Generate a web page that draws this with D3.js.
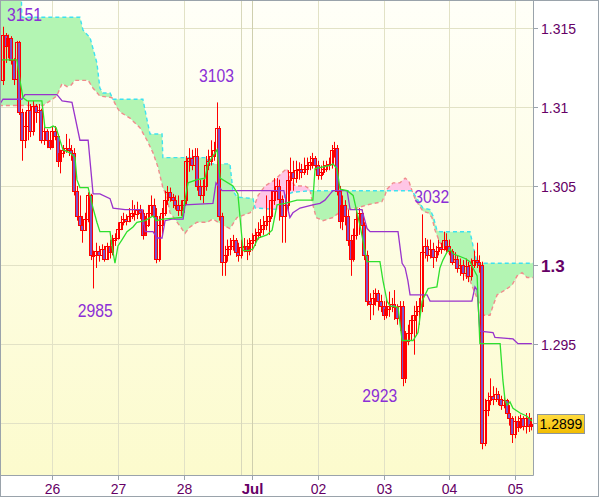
<!DOCTYPE html>
<html>
<head>
<meta charset="utf-8">
<script src="https://cdn.jsdelivr.net/npm/d3@7/dist/d3.min.js"></script>
<style>
html,body{margin:0;padding:0;background:#ffffff;}
svg{display:block;font-family:"Liberation Sans",Arial,sans-serif;}
</style>
</head>
<body>
<svg id="chart" width="600" height="498"></svg>
<script>
// ---------- DATA (hourly bars) ----------
const opens=[
1.3117,1.3146,1.3139,1.3144,1.3130,1.3118,1.3141,1.3097,1.3079,1.3088,
1.3098,1.3085,1.3101,1.3097,1.3098,1.3079,1.3085,1.3079,1.3075,1.3085,
1.3082,1.3066,1.3071,1.3073,1.3074,1.3073,1.3071,1.3047,1.3031,1.3025,
1.3022,1.3029,1.3044,1.3006,1.3006,1.3009,1.3006,1.3010,1.3004,1.3012,
1.3008,1.3016,1.3017,1.3023,1.3027,1.3029,1.3028,1.3031,1.3033,1.3032,
1.3035,1.3033,1.3019,1.3025,1.3033,1.3038,1.3031,1.3004,1.3025,1.3033,
1.3041,1.3046,1.3043,1.3041,1.3038,1.3035,1.3038,1.3041,1.3066,1.3068,
1.3063,1.3069,1.3050,1.3044,1.3050,1.3063,1.3066,1.3069,1.3073,1.3087,
1.3031,1.3002,1.3006,1.3010,1.3012,1.3016,1.3008,1.3006,1.3011,1.3012,
1.3009,1.3014,1.3016,1.3019,1.3021,1.3023,1.3025,1.3028,1.3031,1.3041,
1.3047,1.3050,1.3042,1.3031,1.3038,1.3054,1.3059,1.3055,1.3060,1.3061,
1.3059,1.3061,1.3063,1.3065,1.3068,1.3063,1.3057,1.3059,1.3061,1.3063,
1.3064,1.3073,1.3074,1.3047,1.3028,1.3038,1.3031,1.3016,1.3004,1.3019,
1.3029,1.3033,1.3025,1.3006,1.2977,1.2975,1.2979,1.2982,1.2977,1.2974,
1.2968,1.2972,1.2974,1.2975,1.2973,1.2966,1.2974,1.2928,1.2952,1.2957,
1.2965,1.2968,1.2971,1.2974,1.3008,1.3012,1.3006,1.3010,1.3005,1.3009,
1.3011,1.3010,1.3016,1.3012,1.3009,1.3002,1.3004,1.2998,1.3000,1.2995,
1.2999,1.2993,1.3000,1.3003,1.3002,1.3000,1.2887,1.2908,1.2914,1.2917,
1.2915,1.2918,1.2915,1.2911,1.2914,1.2906,1.2903,1.2893,1.2901,1.2897,
1.2903,1.2898,1.2903,1.2898];
const highs=[
1.3151,1.3147,1.3146,1.3145,1.3131,1.3142,1.3142,1.3099,1.3097,1.3104,
1.3102,1.3104,1.3102,1.3102,1.3099,1.3090,1.3086,1.3083,1.3088,1.3088,
1.3083,1.3073,1.3076,1.3083,1.3080,1.3076,1.3074,1.3050,1.3044,1.3031,
1.3033,1.3046,1.3045,1.3009,1.3014,1.3012,1.3013,1.3012,1.3014,1.3016,
1.3019,1.3020,1.3027,1.3031,1.3033,1.3032,1.3036,1.3041,1.3038,1.3040,
1.3038,1.3035,1.3031,1.3038,1.3044,1.3042,1.3036,1.3031,1.3036,1.3047,
1.3050,1.3049,1.3045,1.3044,1.3044,1.3041,1.3044,1.3069,1.3074,1.3073,
1.3074,1.3074,1.3054,1.3054,1.3069,1.3073,1.3079,1.3078,1.3103,1.3088,
1.3033,1.3012,1.3016,1.3017,1.3019,1.3017,1.3014,1.3016,1.3017,1.3016,
1.3017,1.3020,1.3023,1.3027,1.3029,1.3031,1.3044,1.3035,1.3047,1.3055,
1.3055,1.3054,1.3044,1.3042,1.3060,1.3068,1.3066,1.3066,1.3065,1.3064,
1.3068,1.3068,1.3069,1.3071,1.3069,1.3066,1.3063,1.3066,1.3066,1.3068,
1.3076,1.3078,1.3076,1.3050,1.3044,1.3041,1.3035,1.3019,1.3023,1.3035,
1.3036,1.3035,1.3027,1.3009,1.2982,1.2984,1.2985,1.2984,1.2981,1.2977,
1.2979,1.2983,1.2979,1.2984,1.2975,1.2977,1.2977,1.2958,1.2962,1.2968,
1.2974,1.2977,1.2979,1.3032,1.3017,1.3016,1.3016,1.3014,1.3012,1.3016,
1.3014,1.3021,1.3020,1.3016,1.3010,1.3008,1.3006,1.3004,1.3003,1.3004,
1.3002,1.3004,1.3009,1.3014,1.3006,1.3002,1.2915,1.2919,1.2928,1.2923,
1.2922,1.2920,1.2917,1.2917,1.2915,1.2911,1.2904,1.2904,1.2904,1.2905,
1.2904,1.2906,1.2906,1.2903];
const lows=[
1.3114,1.3128,1.3131,1.3127,1.3114,1.3117,1.3095,1.3066,1.3074,1.3079,
1.3081,1.3082,1.3090,1.3088,1.3077,1.3076,1.3074,1.3073,1.3074,1.3079,
1.3062,1.3058,1.3068,1.3071,1.3069,1.3066,1.3044,1.3028,1.3022,1.3014,
1.3022,1.3027,1.3003,1.2985,1.2998,1.3002,1.3004,1.3002,1.3003,1.3004,
1.3006,1.3012,1.3016,1.3022,1.3025,1.3025,1.3027,1.3029,1.3028,1.3029,
1.3029,1.3016,1.3019,1.3024,1.3031,1.3023,1.3001,1.3002,1.3019,1.3031,
1.3038,1.3040,1.3036,1.3035,1.3031,1.3031,1.3033,1.3038,1.3059,1.3060,
1.3057,1.3047,1.3041,1.3039,1.3047,1.3060,1.3063,1.3066,1.3069,1.3028,
1.2993,1.2993,1.3002,1.3006,1.3009,1.3005,1.3002,1.3004,1.3008,1.3003,
1.3006,1.3009,1.3012,1.3016,1.3017,1.3019,1.3022,1.3019,1.3029,1.3038,
1.3041,1.3028,1.3014,1.3014,1.3033,1.3047,1.3047,1.3052,1.3054,1.3055,
1.3057,1.3057,1.3060,1.3061,1.3060,1.3054,1.3054,1.3057,1.3059,1.3060,
1.3061,1.3068,1.3044,1.3023,1.3022,1.3025,1.3012,1.2993,1.3002,1.3016,
1.3019,1.3016,1.3003,1.2974,1.2965,1.2968,1.2974,1.2971,1.2970,1.2965,
1.2966,1.2967,1.2970,1.2965,1.2962,1.2958,1.2923,1.2925,1.2949,1.2952,
1.2943,1.2955,1.2962,1.2970,1.3004,1.3002,1.3004,1.2998,1.3002,1.3006,
1.3007,1.3009,1.3008,1.3006,1.3000,1.2998,1.2995,1.2993,1.2990,1.2991,
1.2989,1.2990,1.2998,1.2998,1.2995,1.2883,1.2885,1.2904,1.2911,1.2911,
1.2913,1.2911,1.2908,1.2909,1.2903,1.2898,1.2887,1.2890,1.2894,1.2896,
1.2895,1.2893,1.2894,1.2895];
const closes=[
1.3146,1.3139,1.3144,1.3130,1.3118,1.3141,1.3097,1.3079,1.3088,1.3098,
1.3085,1.3101,1.3097,1.3098,1.3079,1.3085,1.3079,1.3075,1.3085,1.3082,
1.3066,1.3071,1.3073,1.3074,1.3073,1.3071,1.3047,1.3031,1.3025,1.3022,
1.3029,1.3044,1.3006,1.3006,1.3009,1.3006,1.3010,1.3004,1.3012,1.3008,
1.3016,1.3017,1.3023,1.3027,1.3029,1.3028,1.3031,1.3033,1.3032,1.3035,
1.3033,1.3019,1.3025,1.3033,1.3038,1.3031,1.3004,1.3025,1.3033,1.3041,
1.3046,1.3043,1.3041,1.3038,1.3035,1.3038,1.3041,1.3066,1.3068,1.3063,
1.3069,1.3050,1.3044,1.3050,1.3063,1.3066,1.3069,1.3073,1.3087,1.3031,
1.3002,1.3006,1.3010,1.3012,1.3016,1.3008,1.3006,1.3011,1.3012,1.3009,
1.3014,1.3016,1.3019,1.3021,1.3023,1.3025,1.3028,1.3031,1.3041,1.3047,
1.3050,1.3042,1.3031,1.3038,1.3054,1.3059,1.3055,1.3060,1.3061,1.3059,
1.3061,1.3063,1.3065,1.3068,1.3063,1.3057,1.3059,1.3061,1.3063,1.3064,
1.3073,1.3074,1.3047,1.3028,1.3038,1.3031,1.3016,1.3004,1.3019,1.3029,
1.3033,1.3025,1.3006,1.2977,1.2975,1.2979,1.2982,1.2977,1.2974,1.2968,
1.2972,1.2974,1.2975,1.2973,1.2966,1.2974,1.2928,1.2952,1.2957,1.2965,
1.2968,1.2971,1.2974,1.3008,1.3012,1.3006,1.3010,1.3005,1.3009,1.3011,
1.3010,1.3016,1.3012,1.3009,1.3002,1.3004,1.2998,1.3000,1.2995,1.2999,
1.2993,1.3000,1.3003,1.3002,1.3000,1.2887,1.2908,1.2914,1.2917,1.2915,
1.2918,1.2915,1.2911,1.2914,1.2906,1.2903,1.2893,1.2901,1.2897,1.2903,
1.2898,1.2903,1.2898,1.2899];

// Indicator lines: [bar position, price] vertices
const tenkan=[[-0.4,1.3130],[5.1,1.3130],[6.2,1.3117],[7.3,1.3106],[8.8,1.3104],[14.2,1.3104],[15.3,1.3087],[17.2,1.3087],[18.3,1.3088],[19.4,1.3087],[20.8,1.3079],[21.9,1.3073],[24.5,1.3071],[26.3,1.3068],[27.0,1.3054],[28.1,1.3049],[31.1,1.3049],[32.9,1.3036],[34.3,1.3027],[35.4,1.3021],[39.1,1.3021],[39.8,1.3012],[40.9,1.3001],[42.0,1.3012],[43.5,1.3016],[45.3,1.3021],[47.5,1.3024],[48.9,1.3027],[51.9,1.3028],[54.8,1.3031],[55.9,1.3028],[58.4,1.3029],[65.4,1.3030],[66.5,1.3041],[67.6,1.3052],[70.9,1.3054],[73.8,1.3055],[74.9,1.3064],[76.7,1.3069],[78.2,1.3073],[79.3,1.3055],[84.0,1.3050],[85.8,1.3045],[87.7,1.3009],[89.5,1.3009],[91.3,1.3010],[93.2,1.3017],[96.4,1.3019],[98.3,1.3022],[100.1,1.3038],[103.0,1.3039],[107.4,1.3041],[113.2,1.3041],[114.0,1.3061],[119.5,1.3063],[120.5,1.3064],[122.0,1.3061],[123.1,1.3048],[125.7,1.3047],[127.9,1.3044],[130.4,1.3025],[133.0,1.3002],[137.7,1.3002],[138.8,1.2990],[140.3,1.2977],[141.4,1.2974],[144.3,1.2973],[145.8,1.2952],[149.8,1.2952],[151.6,1.2957],[153.1,1.2977],[154.2,1.2981],[155.3,1.2985],[158.5,1.2986],[159.6,1.2998],[160.7,1.3003],[162.2,1.3008],[163.3,1.3010],[164.4,1.3007],[168.8,1.3004],[170.6,1.3002],[171.7,1.2998],[173.2,1.2993],[174.2,1.2950],[181.6,1.2950],[182.6,1.2927],[183.4,1.2914],[184.1,1.2911],[185.2,1.2913],[186.3,1.2909],[188.9,1.2906],[191.4,1.2904],[193.2,1.2901]];
const kijun=[[-1.1,1.3102],[0,1.3105],[6.9,1.3105],[8.0,1.3108],[19.7,1.3108],[21.6,1.3104],[25.2,1.3103],[28.1,1.3079],[31.1,1.3079],[32.9,1.3045],[35.4,1.3045],[39.1,1.3042],[40.2,1.3036],[44.6,1.3035],[50.8,1.3035],[51.9,1.3021],[54.8,1.3021],[56.3,1.3017],[58.1,1.3017],[59.2,1.3028],[61.7,1.3029],[65.8,1.3029],[66.5,1.3038],[76.7,1.3039],[77.8,1.3052],[80.0,1.3047],[102.6,1.3047],[103.7,1.3038],[104.8,1.3030],[105.9,1.3033],[108.5,1.3036],[113.2,1.3038],[115.8,1.3039],[117.6,1.3041],[119.5,1.3045],[120.5,1.3047],[125.7,1.3047],[126.8,1.3035],[131.1,1.3035],[133.0,1.3023],[134.1,1.3021],[144.3,1.3021],[145.8,1.3001],[146.9,1.2998],[147.9,1.2990],[148.7,1.2981],[154.9,1.2981],[156.0,1.2977],[171.3,1.2977],[172.4,1.2986],[173.2,1.2984],[174.2,1.2958],[179.0,1.2957],[179.7,1.2954],[186.3,1.2953],[188.1,1.2950],[193.2,1.2950]];
const senkouA=[[-1.5,1.3175],[6.6,1.3175],[6.9,1.3157],[28.1,1.3157],[29.2,1.3149],[31.8,1.3144],[34.3,1.3128],[35.4,1.3112],[36.5,1.3109],[39.1,1.3109],[40.2,1.3105],[51.1,1.3105],[52.6,1.3092],[53.7,1.3083],[58.1,1.3083],[58.4,1.3068],[74.5,1.3068],[74.9,1.3064],[82.9,1.3064],[84.0,1.3047],[85.5,1.3043],[91.3,1.3042],[92.1,1.3036],[101.9,1.3035],[103.0,1.3044],[105.9,1.3046],[112.1,1.3047],[149.4,1.3047],[153.4,1.3036],[156.0,1.3035],[157.1,1.3031],[158.5,1.3022],[159.6,1.3021],[170.6,1.3021],[171.7,1.3012],[173.2,1.3001],[195,1.3001]];
const senkouB=[[-1.5,1.3101],[14.6,1.3101],[17.2,1.3104],[19.6,1.3107],[21.6,1.3115],[23.4,1.3113],[24.9,1.3114],[26.3,1.3117],[31.1,1.3117],[32.9,1.3112],[35.4,1.3107],[39.8,1.3106],[41.6,1.3100],[42.7,1.3097],[46.4,1.3093],[50.0,1.3087],[52.6,1.3079],[54.8,1.3071],[56.6,1.3062],[58.4,1.3049],[59.9,1.3043],[61.0,1.3033],[62.8,1.3029],[66.5,1.3020],[68.3,1.3024],[70.9,1.3027],[74.5,1.3027],[76.7,1.3029],[80.4,1.3025],[82.9,1.3023],[85.5,1.3030],[90.2,1.3033],[91.3,1.3035],[93.2,1.3044],[95.7,1.3050],[99.4,1.3054],[102.3,1.3059],[103.7,1.3061],[105.2,1.3054],[106.7,1.3050],[110.3,1.3050],[112.1,1.3048],[113.2,1.3038],[114.4,1.3030],[116.9,1.3028],[120.5,1.3030],[124.2,1.3035],[129.3,1.3036],[133.0,1.3038],[138.4,1.3040],[139.5,1.3044],[140.3,1.3048],[142.5,1.3052],[145.0,1.3052],[146.9,1.3055],[148.3,1.3053],[149.4,1.3047],[150.5,1.3042],[152.3,1.3037],[153.4,1.3034],[155.3,1.3033],[156.7,1.3030],[157.8,1.3022],[159.6,1.3014],[162.2,1.3009],[164.4,1.3004],[165.8,1.3000],[168.0,1.2995],[170.6,1.2990],[172.4,1.2982],[174.2,1.2975],[175.7,1.2968],[177.9,1.2968],[179.0,1.2974],[180.5,1.2981],[183.4,1.2984],[185.9,1.2987],[187.8,1.2993],[189.6,1.2995],[191.4,1.2992],[195,1.2992]];

const yTicks=[1.29,1.295,1.3,1.305,1.31,1.315];
const yTickLabels=["","1.295","1.3","1.305","1.31","1.315"];
const dayTickIdx=[18,42,66,91,115,139,163,187];
const dayTickLabels=["26","27","28","Jul","02","03","04","05"];
const weekSepIdx=[87];
// marked extremes: bar index and whether high or low
const extremeBars=[0,78,33,146,153];
const extremeKinds=["high","high","low","low","high"];

// ---------- LAYOUT ----------
const plotL=1, plotT=1, plotR=533, plotB=475;
const x=d3.scaleLinear().domain([0,193]).range([3,3+193*2.7375]);
const y=d3.scaleLinear().domain([1.29,1.315]).range([422.5,28.3]);

const svg=d3.select("#chart");
const defs=svg.append("defs");
const bg=defs.append("linearGradient").attr("id","bgGrad").attr("x1",0).attr("y1",0).attr("x2",0).attr("y2",1);
bg.append("stop").attr("offset","0").attr("stop-color","#fffff8");
bg.append("stop").attr("offset","1").attr("stop-color","#fcfbcd");
const pg=defs.append("linearGradient").attr("id","priceGrad").attr("x1",0).attr("y1",0).attr("x2",0).attr("y2",1);
pg.append("stop").attr("offset","0").attr("stop-color","#ffdc40");
pg.append("stop").attr("offset","1").attr("stop-color","#f2bc00");
defs.append("clipPath").attr("id","plotClip").append("rect")
  .attr("x",plotL).attr("y",plotT).attr("width",plotR-plotL).attr("height",plotB-plotT);

const areaBelow=d3.area().x(d=>x(d[0])).y0(plotB+50).y1(d=>y(d[1]));
const areaAbove=d3.area().x(d=>x(d[0])).y0(plotT-50).y1(d=>y(d[1]));
defs.append("clipPath").attr("id","aboveB").append("path").attr("d",areaAbove(senkouB));
defs.append("clipPath").attr("id","aboveA").append("path").attr("d",areaAbove(senkouA));

svg.append("rect").attr("width",600).attr("height",498).attr("fill","#ffffff");
svg.append("rect").attr("x",plotL).attr("y",plotT).attr("width",plotR-plotL).attr("height",plotB-plotT).attr("fill","url(#bgGrad)");

const plotG=svg.append("g").attr("clip-path","url(#plotClip)");
// grid
yTicks.forEach(v=>{
  const yy=Math.round(y(v))+0.5;
  plotG.append("line").attr("x1",plotL).attr("x2",plotR).attr("y1",yy).attr("y2",yy).attr("stroke","#e2e2c6").attr("stroke-width",1);
});
dayTickIdx.forEach((i,k)=>{
  const xx=Math.round(x(i))+0.5;
  plotG.append("line").attr("x1",xx).attr("x2",xx).attr("y1",plotT).attr("y2",plotB)
    .attr("stroke",dayTickLabels[k]==="Jul"?"#cfcfae":"#e2e2c6").attr("stroke-width",1);
});
weekSepIdx.forEach(i=>{
  const xx=Math.round(x(i))+0.5;
  plotG.append("line").attr("x1",xx).attr("x2",xx).attr("y1",plotT).attr("y2",plotB).attr("stroke","#d8d8bb").attr("stroke-width",1);
});

// cloud
plotG.append("path").attr("d",areaBelow(senkouA)).attr("fill","#b3f5b3").attr("clip-path","url(#aboveB)");
plotG.append("path").attr("d",areaBelow(senkouB)).attr("fill","#ffc6e6").attr("clip-path","url(#aboveA)");
const line=d3.line().x(d=>x(d[0])).y(d=>y(d[1]));
plotG.append("path").attr("d",line(senkouB)).attr("fill","none").attr("stroke","#f08c8c").attr("stroke-width",1.4).attr("stroke-dasharray","4,3");
plotG.append("path").attr("d",line(senkouA)).attr("fill","none").attr("stroke","#3ee2f0").attr("stroke-width",1.4).attr("stroke-dasharray","4,3");

// candles
const cg=plotG.append("g");
closes.forEach((c,i)=>{
  const o=opens[i], h=highs[i], l=lows[i];
  const n=Math.round(x(i));
  const cx=n+0.5;
  cg.append("line").attr("x1",cx).attr("x2",cx).attr("y1",y(h)).attr("y2",y(l)).attr("stroke","#ff0000").attr("stroke-width",1);
  const yt=Math.round(y(Math.max(o,c)))+0.5;
  let yb=Math.round(y(Math.min(o,c)))+0.5;
  if(yb-yt<1) yb=yt+1;
  cg.append("rect").attr("x",n-1.5).attr("y",yt).attr("width",3).attr("height",yb-yt)
    .attr("fill",c<o?"#8050c8":"none").attr("stroke","#ff0000").attr("stroke-width",1);
});

// indicator lines
plotG.append("path").attr("d",line(kijun)).attr("fill","none").attr("stroke","#9933cc").attr("stroke-width",1.3);
plotG.append("path").attr("d",line(tenkan)).attr("fill","none").attr("stroke","#2ee02e").attr("stroke-width",1.3);

// extreme labels
const labelDx=[21.5,0,2,-23,10], labelDy=[-5.4,-20,29,16,-11];
extremeBars.forEach((b,k)=>{
  const v=extremeKinds[k]==="high"?highs[b]:lows[b];
  const txt=String(Math.round(v*10000)%10000);
  svg.append("text").attr("x",x(b)+labelDx[k]).attr("y",y(v)+labelDy[k])
    .attr("text-anchor","middle").attr("font-size",18).attr("fill","#8b2fd6")
    .attr("textLength",35).attr("lengthAdjust","spacingAndGlyphs").text(txt);
});

// axes
const axisCol="#9aa3ab";
svg.append("line").attr("x1",plotR+0.5).attr("x2",plotR+0.5).attr("y1",0).attr("y2",plotB+0.5).attr("stroke",axisCol);
svg.append("line").attr("x1",0).attr("x2",plotR+0.5).attr("y1",plotB+0.5).attr("y2",plotB+0.5).attr("stroke",axisCol);
yTicks.forEach((v,k)=>{
  const yy=Math.round(y(v))+0.5;
  svg.append("line").attr("x1",plotR+0.5).attr("x2",plotR+5).attr("y1",yy).attr("y2",yy).attr("stroke",axisCol);
  if(yTickLabels[k]){
    const bold=yTickLabels[k]==="1.3";
    svg.append("text").attr("x",541).attr("y",yy+(bold?6:5))
      .attr("font-size",bold?17:14).attr("font-weight",bold?"bold":"normal")
      .attr("fill","#660066").text(yTickLabels[k]);
  }
});
dayTickIdx.forEach((i,k)=>{
  const xx=Math.round(x(i))+0.5;
  svg.append("line").attr("x1",xx).attr("x2",xx).attr("y1",plotB+0.5).attr("y2",plotB+5).attr("stroke",axisCol);
  const bold=dayTickLabels[k]==="Jul";
  svg.append("text").attr("x",xx).attr("y",494).attr("text-anchor","middle")
    .attr("font-size",bold?15:14).attr("font-weight",bold?"bold":"normal")
    .attr("fill","#660066").text(dayTickLabels[k]);
});

// current price box
const last=closes[closes.length-1];
const py=y(last);
svg.append("rect").attr("x",537.5).attr("y",Math.round(py)-9.5).attr("width",47).attr("height",19)
  .attr("fill","url(#priceGrad)").attr("stroke","#8c959c");
svg.append("text").attr("x",561).attr("y",Math.round(py)+5).attr("text-anchor","middle")
  .attr("font-size",14).attr("fill","#000000").text(last.toFixed(4));

// outer frame
svg.append("rect").attr("x",0.5).attr("y",0.5).attr("width",598).attr("height",496).attr("fill","none").attr("stroke",axisCol);
</script>
</body>
</html>
